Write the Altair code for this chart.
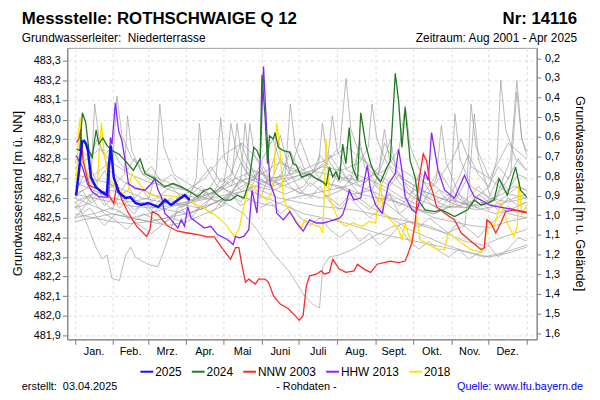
import itertools
import altair as alt
import pandas as pd

# ---------------- texts ----------------
TITEL = "Messstelle: ROTHSCHWAIGE Q 12"
NUMMER = "Nr: 14116"
LEITER = "Grundwasserleiter:\u00a0 Niederterrasse"
ZEITRAUM = "Zeitraum: Aug 2001 - Apr 2025"
ERSTELLT = "erstellt:\u00a0 03.04.2025"
ROHDATEN = "- Rohdaten -"
QUELLE = "Quelle: www.lfu.bayern.de"
Y_TITEL_L = "Grundwasserstand [m ü. NN]"
Y_TITEL_R = "Grundwasserstand [m u. Gelände]"

# ---------------- axes ----------------
MONATE = ["Jan.", "Feb.", "Mrz.", "Apr.", "Mai", "Juni", "Juli", "Aug.", "Sept.", "Okt.", "Nov.", "Dez."]
MONATSTAGE = [31, 28, 31, 30, 31, 30, 31, 31, 30, 31, 30, 31]
Y_TICKS = [481.9, 482.0, 482.1, 482.2, 482.3, 482.4, 482.5, 482.6, 482.7, 482.8, 482.9, 483.0, 483.1, 483.2, 483.3]
R_TICKS = [0.2, 0.3, 0.4, 0.5, 0.6, 0.7, 0.8, 0.9, 1.0, 1.1, 1.2, 1.3, 1.4, 1.5, 1.6]
GELAENDE = 483.512
Y_BEREICH = [481.880, 483.3655]
X_BEREICH = [-6.1, 373.0]

# ---------------- highlighted series (day of year, m ü. NN) ----------------
LEGENDE = ["2025", "2024", "NNW 2003", "HHW 2013", "2018"]
FARBEN = ["#1010ff", "#1f7a1f", "#ff2626", "#8a22ff", "#ffe000"]
BREITEN = [2.5, 1.3, 1.3, 1.3, 1.3]

T_2025 = [1.0, 3.4, 5.8, 7.4, 9.0, 10.6, 13.0, 17.0, 21.8, 25.8, 27.4, 29.0, 31.4, 35.4, 40.9, 44.9, 48.9,
          53.7, 59.3, 67.3, 72.9, 77.7, 83.2, 88.8, 92.8]
W_2025 = [482.612, 482.741, 482.887, 482.892, 482.877, 482.842, 482.706, 482.656, 482.630, 482.615, 482.760,
          482.867, 482.706, 482.630, 482.600, 482.605, 482.575, 482.565, 482.575, 482.555, 482.590, 482.565,
          482.590, 482.615, 482.590]

T_2024 = [1.3, 4.0, 6.1, 8.8, 11.4, 14.0, 17.2, 19.4, 22.6, 26.0, 30.0, 35.4, 40.7, 47.3, 52.7, 56.7, 64.6,
          72.6, 79.3, 85.9, 91.2, 99.2, 104.6, 109.8, 115.2, 120.5, 125.8, 131.1, 136.5, 140.5, 144.5, 147.1,
          149.7, 151.1, 153.7, 155.6, 157.2, 160.4, 161.7, 164.4, 168.4, 173.7, 176.4, 179.0, 183.0, 187.0,
          189.6, 195.0, 200.3, 203.0, 205.6, 208.3, 210.9, 213.6, 216.3, 218.9, 221.6, 224.3, 228.3, 230.9,
          234.9, 238.9, 242.9, 246.9, 252.2, 254.8, 258.8, 261.5, 264.2, 266.8, 270.8, 274.8, 277.5, 282.8,
          290.8, 296.1, 301.4, 306.7, 312.1, 317.3, 322.7, 328.0, 333.3, 338.6, 342.6, 349.3, 356.0, 360.0, 365.0]
W_2024 = [482.850, 482.842, 483.035, 482.984, 482.842, 482.808, 482.948, 482.875, 482.906, 482.867, 482.842,
          482.825, 482.791, 482.741, 482.800, 482.724, 482.699, 482.657, 482.674, 482.657, 482.640, 482.607,
          482.640, 482.650, 482.615, 482.590, 482.590, 482.615, 482.600, 482.676, 482.858, 482.842, 482.800,
          483.228, 483.009, 482.775, 482.917, 482.901, 482.934, 482.858, 482.842, 482.833, 482.775, 482.766,
          482.707, 482.716, 482.724, 482.699, 482.682, 482.666, 482.758, 482.707, 482.733, 482.691, 482.875,
          482.775, 482.959, 482.758, 482.691, 483.035, 482.875, 482.775, 482.716, 482.682, 482.758, 482.791,
          483.236, 483.094, 482.858, 483.060, 482.791, 482.707, 482.590, 482.540, 482.531, 482.540, 482.523,
          482.506, 482.523, 482.540, 482.590, 482.565, 482.573, 482.590, 482.699, 482.615, 482.758, 482.640,
          482.605]

T_2003 = [1.3, 3.4, 4.8, 6.6, 11.4, 14.0, 19.4, 24.7, 27.4, 31.4, 34.0, 38.0, 43.3, 50.0, 57.9, 60.7, 62.5,
          67.3, 75.3, 83.2, 91.2, 99.2, 107.2, 112.5, 117.8, 125.8, 129.8, 132.5, 135.1, 137.8, 140.5, 145.7,
          148.4, 153.7, 156.4, 160.4, 165.7, 172.4, 177.7, 181.2, 184.4, 187.0, 189.6, 195.0, 199.0, 201.6,
          205.6, 208.3, 213.6, 218.9, 225.5, 228.3, 233.5, 238.9, 244.2, 249.5, 254.8, 261.5, 266.8, 269.4,
          272.2, 274.8, 277.5, 281.4, 284.1, 286.8, 289.4, 292.1, 298.7, 306.7, 312.1, 320.0, 328.0, 330.7,
          332.8, 336.0, 340.0, 344.0, 348.0, 354.6, 360.0, 365.0]
W_2003 = [482.884, 482.901, 482.951, 482.791, 482.666, 482.657, 482.645, 482.624, 482.615, 482.573, 482.671,
          482.590, 482.523, 482.456, 482.405, 482.439, 482.531, 482.515, 482.456, 482.431, 482.422, 482.414,
          482.402, 482.402, 482.355, 482.288, 482.347, 482.347, 482.254, 482.171, 482.187, 482.162, 482.187,
          482.187, 482.171, 482.103, 482.061, 482.036, 482.002, 481.977, 482.002, 482.153, 482.204, 482.212,
          482.229, 482.212, 482.221, 482.288, 482.238, 482.221, 482.229, 482.263, 482.238, 482.221, 482.263,
          482.271, 482.279, 482.271, 482.279, 482.322, 482.372, 482.473, 482.674, 482.825, 482.791, 482.674,
          482.624, 482.556, 482.523, 482.489, 482.422, 482.380, 482.338, 482.347, 482.489, 482.473, 482.422,
          482.473, 482.531, 482.540, 482.531, 482.525]

T_2013 = [1.0, 6.1, 10.1, 14.0, 19.4, 24.7, 27.4, 28.7, 30.0, 32.7, 35.4, 38.0, 40.7, 43.3, 48.7, 56.7, 61.9,
          64.6, 67.3, 69.9, 72.6, 77.9, 83.2, 85.9, 88.6, 91.2, 93.9, 99.2, 104.6, 109.8, 115.2, 123.1, 127.9,
          129.8, 132.5, 136.5, 140.5, 143.1, 147.1, 149.7, 152.4, 155.1, 157.7, 161.7, 163.1, 168.4, 173.7,
          179.0, 184.4, 189.6, 195.0, 200.3, 205.6, 213.6, 216.3, 218.9, 221.6, 225.3, 230.9, 236.2, 238.9,
          242.9, 248.2, 253.5, 258.8, 261.5, 264.2, 266.8, 272.2, 275.6, 278.8, 282.8, 285.4, 288.1, 293.4,
          298.7, 306.7, 314.7, 320.0, 322.7, 328.0, 334.7, 341.3, 349.3, 362.6, 365.0]
W_2013 = [482.817, 482.758, 482.674, 482.632, 482.607, 482.605, 482.605, 482.909, 482.875, 483.085, 482.942,
          482.892, 482.791, 482.674, 482.649, 482.640, 482.674, 482.699, 482.640, 482.607, 482.523, 482.489,
          482.447, 482.489, 482.456, 482.556, 482.498, 482.473, 482.447, 482.456, 482.414, 482.389, 482.363,
          482.405, 482.397, 482.405, 482.439, 482.640, 482.523, 482.791, 483.270, 482.926, 482.674, 482.607,
          482.523, 482.489, 482.531, 482.473, 482.431, 482.489, 482.473, 482.473, 482.481, 482.498, 482.515,
          482.565, 482.640, 482.590, 482.600, 482.766, 482.640, 482.565, 482.523, 482.674, 482.724, 482.850,
          482.741, 482.607, 482.540, 482.525, 482.590, 482.733, 482.691, 482.934, 482.741, 482.640, 482.600,
          482.716, 482.640, 482.607, 482.590, 482.565, 482.556, 482.548, 482.531, 482.530]

T_2018 = [1.3, 2.9, 4.2, 6.1, 8.8, 14.0, 18.0, 19.4, 21.5, 23.4, 26.0, 28.7, 32.7, 38.0, 43.3, 46.0, 50.0,
          54.0, 59.3, 64.6, 72.6, 80.6, 88.6, 93.9, 104.6, 115.2, 123.1, 128.5, 132.5, 136.5, 140.5, 144.5,
          149.7, 155.1, 159.9, 163.1, 165.7, 168.4, 171.0, 176.4, 183.0, 185.6, 192.3, 197.6, 200.3, 203.0,
          205.6, 208.3, 213.6, 218.9, 224.3, 232.2, 237.5, 242.9, 246.9, 249.5, 256.2, 261.5, 264.2, 266.8,
          269.4, 272.2, 276.1, 278.8, 285.4, 293.4, 298.7, 301.4, 305.4, 312.1, 320.0, 328.0, 330.1, 333.3,
          338.6, 344.0, 349.3, 354.6, 357.3, 358.6, 361.0, 365.0]
W_2018 = [482.691, 482.926, 483.009, 482.842, 482.741, 482.674, 482.657, 482.808, 482.984, 482.842, 482.741,
          482.691, 482.657, 482.624, 482.640, 482.724, 482.691, 482.657, 482.624, 482.610, 482.615, 482.607,
          482.600, 482.581, 482.548, 482.506, 482.456, 482.405, 482.439, 482.556, 482.674, 482.660, 482.615,
          482.590, 482.640, 482.984, 482.842, 482.607, 482.556, 482.506, 482.447, 482.489, 482.464, 482.456,
          482.422, 482.901, 482.607, 482.556, 482.481, 482.456, 482.473, 482.456, 482.481, 482.473, 482.674,
          482.523, 482.481, 482.439, 482.389, 482.473, 482.414, 482.372, 482.506, 482.389, 482.363, 482.338,
          482.338, 482.422, 482.405, 482.372, 482.338, 482.322, 482.338, 482.473, 482.456, 482.575, 482.473,
          482.405, 482.456, 482.691, 482.515, 482.565]

# ---------------- other years (grey) ----------------
RASTER = [0, 6, 12, 18, 24, 30, 36, 42, 48, 55, 62, 70, 78, 86, 94, 102, 110, 118, 126, 134, 142, 150, 158,
          166, 174, 182, 190, 198, 206, 214, 222, 230, 238, 246, 254, 262, 270, 278, 286, 294, 302, 310, 318,
          326, 334, 342, 350, 358, 365]
GRAU_JAHRE = ["2001", "2002", "2004", "2005", "2006", "2007", "2008", "2009", "2010", "2011", "2012",
              "2014", "2015", "2016", "2017", "2019", "2020", "2021", "2022", "2023"]
GRAU_TAGE = [
    [213, 225, 240, 250, 255, 260, 270, 285, 300, 315, 330, 345, 355, 365],
    [0, 10, 13, 16, 20, 28, 40, 55, 70, 85, 100, 115, 130, 145, 160, 170, 174, 178, 186, 200, 215, 230, 245,
     260, 275, 290, 303, 307, 311, 320, 335, 350, 365],
    [0, 12, 24, 31, 34, 38, 46, 60, 75, 90, 105, 120, 123, 126, 131, 140, 155, 170, 185, 200, 215, 230, 237,
     240, 244, 252, 265, 280, 295, 310, 325, 340, 355, 365],
    [0, 15, 30, 40, 42.5, 46, 55, 70, 85, 100, 115, 130, 145, 160, 175, 190, 205, 214, 219, 223, 230, 245, 260,
     275, 290, 305, 320, 335, 341, 344, 348, 356, 365],
    [0, 4, 9, 17, 22, 26, 30, 36, 41, 45, 49, 54, 60, 67, 73, 78, 83, 95, 110, 125, 140, 155, 170, 185, 200,
     215, 230, 245, 260, 275, 290, 305, 320, 335, 350, 365],
    [0, 15, 30, 45, 60, 66, 68.6, 72, 80, 95, 110, 125, 140, 155, 170, 185, 197, 200, 204, 215, 230, 245, 260,
     275, 290, 305, 317, 320, 324, 335, 350, 365],
    [0, 15, 30, 45, 60, 75, 90, 98, 100.6, 104, 115, 130, 145, 160, 175, 190, 205, 220, 235, 250, 262, 266.8,
     271, 280, 295, 310, 325, 340, 352, 357, 361, 365],
    [0, 15, 30, 45, 60, 75, 90, 105, 114, 117.8, 121, 130, 145, 160, 175, 190, 204, 208, 212, 220, 235, 250,
     265, 280, 292, 296, 300, 310, 325, 340, 355, 365],
    [0, 12, 25, 40, 55, 70, 85, 100, 115, 127, 131, 135, 145, 160, 175, 190, 205, 220, 235, 246, 250, 254, 265,
     280, 295, 310, 325, 340, 352, 357, 361, 365],
    [0, 15, 30, 45, 60, 75, 90, 105, 120, 134, 137.5, 141, 150, 165, 180, 195, 210, 225, 240, 255, 270, 285,
     300, 315, 319, 322.7, 326, 335, 350, 365],
    [0, 15, 30, 45, 60, 75, 90, 105, 120, 138, 141.3, 145, 155, 170, 185, 200, 215, 226, 230, 234, 245, 260,
     275, 290, 305, 320, 335, 350, 365],
    [0, 15, 30, 45, 60, 75, 90, 105, 120, 135, 150, 165, 180, 195, 210, 225, 240, 255, 270, 285, 300, 315, 330,
     345, 365],
    [0, 15, 30, 45, 60, 75, 90, 105, 120, 136.5, 147, 160, 173.7, 185.6, 192, 197.6, 200.3, 205.6, 213.6, 225,
     240, 255, 270, 285, 300, 315, 330, 345, 365],
    [0, 10, 20, 30, 45, 60, 75, 90, 105, 120, 135, 150, 160, 165, 175, 190, 205, 220, 235, 245, 250, 260, 275,
     290, 305, 312, 320, 335, 350, 365],
    RASTER, RASTER, RASTER, RASTER, RASTER, RASTER,
]
GRAU_WERTE = [
    [482.66, 482.62, 482.64, 482.80, 482.90, 482.72, 482.66, 482.60, 482.56, 482.55, 482.58, 482.62, 482.66,
     482.64],
    [482.62, 482.65, 482.70, 483.08, 482.88, 482.74, 482.68, 482.64, 482.60, 482.57, 482.55, 482.58, 482.62,
     482.66, 482.70, 482.72, 483.08, 482.86, 482.74, 482.68, 482.66, 482.62, 482.60, 482.58, 482.55, 482.52,
     482.56, 483.03, 482.80, 482.66, 482.60, 482.58, 482.60],
    [482.72, 482.70, 482.76, 482.82, 483.12, 482.92, 482.80, 482.72, 482.68, 482.64, 482.60, 482.66, 482.78,
     482.98, 482.82, 482.72, 482.68, 482.70, 482.72, 482.76, 482.74, 482.78, 482.86, 483.08, 482.90, 482.78,
     482.70, 482.64, 482.60, 482.56, 482.54, 482.56, 482.60, 482.62],
    [482.55, 482.58, 482.66, 482.72, 483.02, 482.84, 482.72, 482.66, 482.62, 482.60, 482.64, 482.70, 482.74,
     482.70, 482.72, 482.76, 482.80, 482.86, 483.21, 482.95, 482.82, 482.72, 482.66, 482.60, 482.56, 482.55,
     482.58, 482.66, 482.80, 483.20, 482.95, 482.80, 482.74],
    [482.58, 482.55, 482.48, 482.35, 482.29, 482.31, 482.19, 482.18, 482.31, 482.35, 482.30, 482.28, 482.26,
     482.25, 482.35, 482.45, 482.55, 482.58, 482.60, 482.62, 482.64, 482.60, 482.56, 482.52, 482.50, 482.48,
     482.45, 482.42, 482.40, 482.38, 482.36, 482.34, 482.32, 482.30, 482.32, 482.35],
    [482.68, 482.64, 482.60, 482.58, 482.60, 482.75, 483.08, 482.86, 482.72, 482.66, 482.62, 482.66, 482.70,
     482.66, 482.62, 482.66, 482.78, 482.98, 482.80, 482.70, 482.66, 482.62, 482.58, 482.54, 482.52, 482.56,
     482.70, 483.08, 482.86, 482.70, 482.62, 482.60],
    [482.50, 482.52, 482.55, 482.50, 482.48, 482.50, 482.55, 482.70, 482.98, 482.78, 482.66, 482.62, 482.58,
     482.56, 482.60, 482.62, 482.64, 482.66, 482.70, 482.74, 482.85, 483.07, 482.86, 482.72, 482.64, 482.58,
     482.55, 482.60, 482.80, 483.20, 482.90, 482.82],
    [482.60, 482.56, 482.52, 482.50, 482.52, 482.55, 482.58, 482.62, 482.70, 483.01, 482.80, 482.70, 482.66,
     482.64, 482.68, 482.72, 482.78, 483.02, 482.84, 482.74, 482.70, 482.66, 482.60, 482.56, 482.70, 482.97,
     482.78, 482.62, 482.55, 482.52, 482.55, 482.58],
    [482.66, 482.70, 482.68, 482.64, 482.60, 482.58, 482.56, 482.60, 482.64, 482.72, 482.98, 482.80, 482.70,
     482.66, 482.70, 482.74, 482.72, 482.70, 482.68, 482.76, 482.95, 482.80, 482.70, 482.64, 482.60, 482.58,
     482.56, 482.60, 482.72, 483.14, 482.90, 482.84],
    [482.48, 482.50, 482.52, 482.50, 482.48, 482.46, 482.48, 482.52, 482.56, 482.70, 482.98, 482.78, 482.64,
     482.60, 482.58, 482.56, 482.55, 482.54, 482.52, 482.50, 482.48, 482.45, 482.42, 482.46, 482.72, 483.03,
     482.80, 482.62, 482.52, 482.50],
    [482.58, 482.62, 482.64, 482.60, 482.56, 482.54, 482.52, 482.55, 482.60, 482.70, 482.98, 482.82, 482.70,
     482.66, 482.62, 482.60, 482.64, 482.72, 482.90, 482.76, 482.66, 482.60, 482.55, 482.50, 482.48, 482.46,
     482.45, 482.48, 482.50],
    [482.52, 482.50, 482.48, 482.47, 482.48, 482.50, 482.52, 482.55, 482.60, 482.66, 482.72, 482.78, 482.74,
     482.70, 482.66, 482.62, 482.55, 482.50, 482.44, 482.40, 482.36, 482.33, 482.30, 482.32, 482.36],
    [482.62, 482.60, 482.58, 482.56, 482.55, 482.56, 482.58, 482.60, 482.58, 482.52, 482.44, 482.32, 482.22,
     482.10, 482.06, 482.04, 482.25, 482.30, 482.31, 482.34, 482.40, 482.45, 482.48, 482.46, 482.42, 482.38,
     482.36, 482.40, 482.44],
    [482.75, 482.80, 482.85, 482.78, 482.72, 482.68, 482.66, 482.64, 482.70, 482.82, 482.88, 482.78, 482.90,
     482.80, 482.74, 482.72, 482.80, 482.86, 482.78, 482.72, 482.88, 482.76, 482.70, 482.66, 482.80, 482.90,
     482.76, 482.70, 482.88, 482.80],
    [482.60, 482.64, 482.58, 482.62, 482.56, 482.60, 482.55, 482.58, 482.54, 482.57, 482.52, 482.56, 482.60,
     482.55, 482.58, 482.64, 482.60, 482.70, 482.66, 482.78, 482.70, 482.74, 482.68, 482.80, 482.72, 482.76,
     482.70, 482.82, 482.74, 482.68, 482.72, 482.66, 482.70, 482.64, 482.76, 482.68, 482.62, 482.66, 482.60,
     482.64, 482.58, 482.62, 482.56, 482.60, 482.54, 482.58, 482.62, 482.66, 482.64],
    [482.55, 482.58, 482.62, 482.56, 482.52, 482.50, 482.54, 482.50, 482.48, 482.52, 482.50, 482.47, 482.50,
     482.48, 482.52, 482.56, 482.60, 482.56, 482.62, 482.58, 482.66, 482.60, 482.74, 482.92, 482.72, 482.64,
     482.60, 482.66, 482.58, 482.54, 482.60, 482.55, 482.50, 482.54, 482.62, 482.52, 482.48, 482.45, 482.50,
     482.46, 482.42, 482.48, 482.44, 482.40, 482.46, 482.50, 482.56, 482.52, 482.55],
    [482.78, 482.84, 482.80, 482.90, 482.82, 482.86, 482.78, 482.74, 482.80, 482.72, 482.76, 482.68, 482.72,
     482.66, 482.62, 482.66, 482.60, 482.64, 482.70, 482.64, 482.68, 482.74, 482.66, 482.70, 482.84, 482.72,
     482.66, 482.70, 482.64, 482.76, 482.68, 482.62, 482.66, 482.58, 482.62, 482.56, 482.60, 482.72, 482.64,
     482.58, 482.62, 482.56, 482.60, 482.66, 482.60, 482.70, 482.64, 482.72, 482.70],
    [482.50, 482.54, 482.60, 482.66, 482.58, 482.54, 482.62, 482.56, 482.52, 482.58, 482.54, 482.60, 482.56,
     482.62, 482.58, 482.54, 482.60, 482.66, 482.62, 482.70, 482.64, 482.78, 482.70, 482.66, 482.74, 482.90,
     482.76, 482.70, 482.82, 482.74, 482.68, 482.86, 482.74, 482.70, 482.66, 482.72, 482.64, 482.60, 482.66,
     482.74, 482.66, 482.60, 482.56, 482.62, 482.58, 482.54, 482.60, 482.56, 482.58],
    [482.56, 482.52, 482.55, 482.50, 482.46, 482.50, 482.47, 482.44, 482.48, 482.45, 482.42, 482.46, 482.50,
     482.54, 482.50, 482.56, 482.52, 482.58, 482.62, 482.56, 482.60, 482.55, 482.58, 482.52, 482.56, 482.50,
     482.46, 482.50, 482.44, 482.40, 482.44, 482.38, 482.42, 482.36, 482.40, 482.46, 482.38, 482.34, 482.38,
     482.33, 482.30, 482.34, 482.29, 482.32, 482.36, 482.30, 482.34, 482.40, 482.38],
    [482.62, 482.70, 482.76, 482.68, 482.74, 482.66, 482.62, 482.68, 482.60, 482.64, 482.58, 482.62, 482.66,
     482.60, 482.64, 482.70, 482.76, 482.68, 482.72, 482.88, 482.76, 482.70, 482.66, 482.72, 482.66, 482.62,
     482.68, 482.64, 482.60, 482.56, 482.62, 482.58, 482.54, 482.60, 482.56, 482.52, 482.56, 482.64, 482.58,
     482.54, 482.60, 482.70, 482.82, 482.72, 482.66, 482.76, 482.70, 482.80, 482.74],
]

# ---------------- build tables ----------------
FARBIG = [("2018", T_2018, W_2018), ("HHW 2013", T_2013, W_2013), ("NNW 2003", T_2003, W_2003),
          ("2024", T_2024, W_2024), ("2025", T_2025, W_2025)]
for name, t, w in FARBIG:
    if len(t) != len(w):
        raise ValueError(f"{name}: {len(t)} vs {len(w)}")
for name, t, w in zip(GRAU_JAHRE, GRAU_TAGE, GRAU_WERTE):
    if len(t) != len(w):
        raise ValueError(f"{name}: {len(t)} vs {len(w)}")

grau_df = pd.DataFrame([{"jahr": j, "tag": d, "wert": v}
                        for j, t, w in zip(GRAU_JAHRE, GRAU_TAGE, GRAU_WERTE) for d, v in zip(t, w)])

MONATSANFANG = [0] + list(itertools.accumulate(MONATSTAGE))
monat_df = pd.DataFrame({"monat": MONATE,
                         "mitte": [a + n / 2 for a, n in zip(MONATSANFANG[:-1], MONATSTAGE)]})

FONT = "Liberation Sans"
W, H = 475, 295
AXCOL = "#7a7a7a"
GRIDCOL = "#dcdcdc"
KOMMA = "replace(format(datum.value, '.1f'), '.', ',')"

x_scale = alt.Scale(domain=X_BEREICH, nice=False, zero=False)
y_scale = alt.Scale(domain=Y_BEREICH, nice=False, zero=False)
r_scale = alt.Scale(domain=[GELAENDE - Y_BEREICH[1], GELAENDE - Y_BEREICH[0]], reverse=True,
                    nice=False, zero=False)

X_ACHSE = alt.Axis(values=MONATSANFANG, labels=False, title=None, tickSize=5, tickColor=AXCOL,
                   domainColor=AXCOL, grid=True, gridColor=GRIDCOL, gridDash=[3, 3])
Y_ACHSE = alt.Axis(values=Y_TICKS, labelExpr=KOMMA, title=None, tickSize=5, tickColor=AXCOL,
                   domainColor=AXCOL, labelFont=FONT, labelFontSize=11, labelColor="#000000",
                   labelPadding=2, grid=True, gridColor=GRIDCOL, gridDash=[3, 3])
R_ACHSE = alt.Axis(orient="right", values=R_TICKS, labelExpr=KOMMA, title=None, tickSize=4,
                   tickColor=AXCOL, domainColor=AXCOL, labelFont=FONT, labelFontSize=11,
                   labelColor="#000000", labelPadding=4, grid=False)

x_enc = alt.X("tag:Q", scale=x_scale, axis=X_ACHSE)
y_enc = alt.Y("wert:Q", scale=y_scale, axis=Y_ACHSE)

farb_scale = alt.Scale(domain=LEGENDE, range=FARBEN)
legende = alt.Legend(orient="none", legendX=73, legendY=320, direction="horizontal", columns=5,
                     title=None, symbolType="stroke", symbolSize=169, symbolStrokeWidth=2,
                     labelFontSize=12, labelFont=FONT, labelColor="#000000", labelOffset=1,
                     columnPadding=6, padding=0)

grau = alt.Chart(grau_df).mark_line(color="#9c9c9c", strokeWidth=1, opacity=0.7).encode(
    x=x_enc, y=y_enc, detail="jahr:N",
)

farb_layers = []
for (name, t, w) in FARBIG:
    df = pd.DataFrame({"serie": name, "tag": t, "wert": w})
    farb_layers.append(
        alt.Chart(df).mark_line(strokeWidth=BREITEN[LEGENDE.index(name)]).encode(
            x=x_enc, y=y_enc,
            color=alt.Color("serie:N", scale=farb_scale, legend=legende),
        )
    )

monate = alt.Chart(monat_df).mark_text(font=FONT, fontSize=11, color="#000000", baseline="middle").encode(
    x=alt.X("mitte:Q", scale=x_scale, axis=X_ACHSE),
    y=alt.value(H + 13),
    text="monat:N",
)

innen = alt.layer(grau, *farb_layers, monate)

rechts = alt.Chart(grau_df).transform_calculate(flur=f"{GELAENDE} - datum.wert").mark_line(
    strokeOpacity=0).encode(
    x=alt.X("tag:Q", scale=x_scale, axis=X_ACHSE),
    y=alt.Y("flur:Q", scale=r_scale, axis=R_ACHSE),
    detail="jahr:N",
)


def text(t, x, y, size, align="left", weight="normal", color="#000000", angle=0, baseline="alphabetic"):
    return alt.Chart(alt.Data(values=[{"t": t}])).mark_text(
        align=align, baseline=baseline, fontSize=size, fontWeight=weight, color=color, angle=angle,
        font=FONT).encode(x=alt.value(x), y=alt.value(y), text="t:N")


texte = [
    text(TITEL, -46, -24, 17, weight="bold"),
    text(NUMMER, 516, -24, 17, align="right", weight="bold"),
    text(LEITER, -46, -6, 12),
    text(ZEITRAUM, 516, -6, 12, align="right"),
    text(Y_TITEL_L, -50, H / 2, 13, align="center", angle=270, baseline="middle"),
    text(Y_TITEL_R, 519, H / 2, 13, align="center", angle=90, baseline="middle"),
    text(ERSTELLT, -46, 346, 11),
    text(ROHDATEN, 242, 346, 11, align="center"),
    text(QUELLE, 522, 346, 11, align="right", color="#0000ff"),
]

chart = alt.layer(innen, rechts, *texte).resolve_scale(y="independent").properties(
    width=W, height=H,
    padding={"left": 60, "top": 38, "right": 56, "bottom": 56},
    autosize=alt.AutoSizeParams(type="none"),
).configure(font=FONT).configure_view(stroke="#9a9a9a", strokeWidth=1)

chart.save("out.html", embed_options={"renderer": "svg", "actions": False})
